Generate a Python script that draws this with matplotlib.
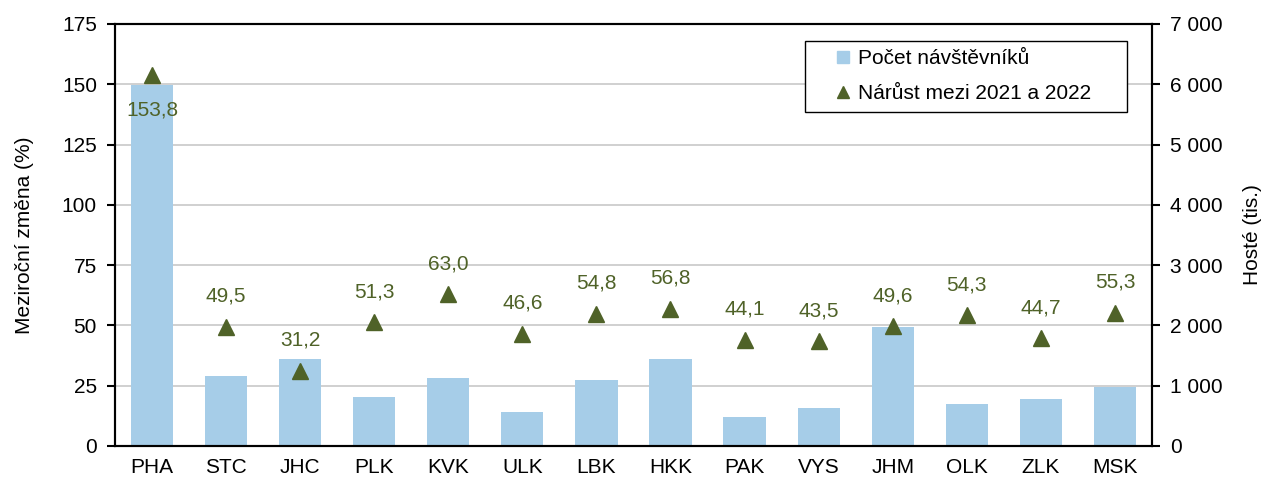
import matplotlib.pyplot as plt
from matplotlib.lines import Line2D
from matplotlib.patches import Rectangle
from matplotlib.ticker import FuncFormatter, MultipleLocator

plt.rcParams['font.family'] = ['Liberation Sans', 'DejaVu Sans']

regions = ['PHA', 'STC', 'JHC', 'PLK', 'KVK', 'ULK', 'LBK', 'HKK',
           'PAK', 'VYS', 'JHM', 'OLK', 'ZLK', 'MSK']
guests = [5990, 1155, 1450, 815, 1130, 560, 1100, 1450,
          480, 630, 1975, 695, 780, 980]
growth = [153.8, 49.5, 31.2, 51.3, 63.0, 46.6, 54.8, 56.8,
          44.1, 43.5, 49.6, 54.3, 44.7, 55.3]

bar_color = '#A6CDE8'
tri_color = '#4F6228'
fs = 15

fig = plt.figure(figsize=(12.62, 4.79), dpi=100)
ax = fig.add_axes([0.0911, 0.0689, 0.8217, 0.881])
ax2 = ax.twinx()

x = range(len(regions))

# bars on right axis (guests), drawn underneath
ax2.bar(x, guests, width=0.57, color=bar_color, zorder=2)
ax2.set_ylim(0, 7000)
ax2.yaxis.set_major_locator(MultipleLocator(1000))
ax2.yaxis.set_major_formatter(FuncFormatter(lambda v, p: f'{int(v):,}'.replace(',', ' ')))
ax2.grid(axis='y', color='#C8C8C8', lw=1.2, zorder=0)
ax2.set_axisbelow(True)
ax2.set_ylabel('Hosté (tis.)', fontsize=fs, labelpad=15)

# triangles on left axis (growth %)
ax.set_zorder(ax2.get_zorder() + 1)
ax.patch.set_visible(False)
ax.plot(x, growth, linestyle='none', marker='^', markersize=12, color=tri_color)
for i, v in enumerate(growth):
    lbl = f'{v:.1f}'.replace('.', ',')
    off = -25 if i == 0 else 22
    ax.annotate(lbl, (i, v), xytext=(0, off), textcoords='offset points',
                ha='center', va='center', color=tri_color, fontsize=fs)
ax.set_ylim(0, 175)
ax.yaxis.set_major_locator(MultipleLocator(25))
ax.set_xlim(-0.5, len(regions) - 0.5)
ax.set_xticks(list(x))
ax.set_xticklabels(regions)
ax.set_ylabel('Meziroční změna (%)', fontsize=fs, labelpad=20)

for a in (ax, ax2):
    for s in a.spines.values():
        s.set_linewidth(1.5)
        s.set_color('black')
    a.tick_params(axis='y', labelsize=fs, length=6, width=1.5, direction='out', pad=7)
    a.tick_params(axis='x', labelsize=fs, length=0, pad=9)

# legend box drawn separately (wider padding on the right than matplotlib allows)
ax.add_patch(Rectangle((0.6654, 0.7915), 0.3105, 0.1682, transform=ax.transAxes,
                       facecolor='white', edgecolor='black', lw=1.0, zorder=5))
handles = [Line2D([], [], linestyle='none', marker='s', markersize=8, color=bar_color),
           Line2D([], [], linestyle='none', marker='^', markersize=8, color=tri_color)]
leg = ax.legend(handles, ['Počet návštěvníků', 'Nárůst mezi 2021 a 2022'],
                loc='upper left', bbox_to_anchor=(0.6654, 0.9597), fontsize=fs,
                frameon=False, handlelength=2.86, handletextpad=-0.71,
                labelspacing=0.75, borderpad=0.4, borderaxespad=0)
leg.set_zorder(6)

fig.savefig('out.png', dpi=100)
